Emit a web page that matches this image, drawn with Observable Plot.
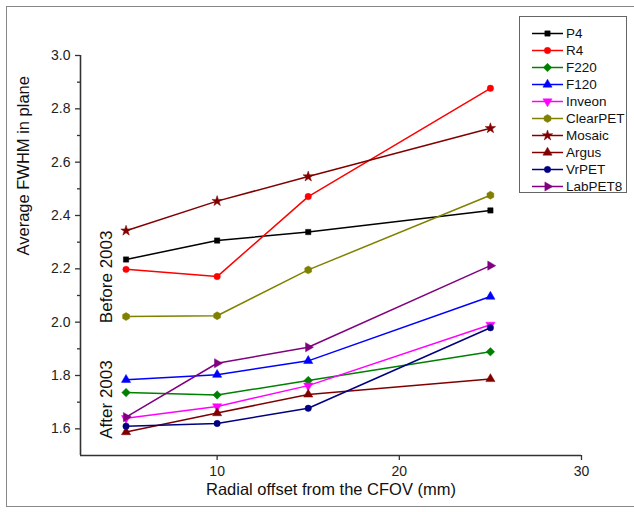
<!DOCTYPE html>
<html><head><meta charset="utf-8">
<script src="https://cdn.jsdelivr.net/npm/d3@7"></script>
<script src="https://cdn.jsdelivr.net/npm/@observablehq/plot@0.6"></script>
<style>
body{margin:0;background:#fff;font-family:Arial,"Liberation Sans",sans-serif;}
#wrap{position:relative;width:634px;height:512px;overflow:hidden;background:#fff;}
#chart{position:absolute;left:0;top:0;}
#frame{position:absolute;left:6px;top:6px;width:700px;height:501px;border:1px solid #888;box-sizing:border-box;pointer-events:none;}
#legend{position:absolute;left:519px;top:16px;width:108px;height:177px;border:1px solid #666;background:#fff;box-sizing:border-box;padding-top:8px;}
.row{display:flex;align-items:center;height:17px;padding-left:11px;font-size:13.5px;color:#111;white-space:nowrap;}
.row svg{display:block;}
.row span{margin-left:2px;}
</style></head><body>
<div id="wrap"><div id="chart"></div><div id="frame"></div><div id="legend"></div></div>
<script>
// ---- data ----
const offsets = [5, 10, 15, 25];
const names = ["P4", "R4", "F220", "F120", "Inveon", "ClearPET", "Mosaic", "Argus", "VrPET", "LabPET8"];
const P4       = [2.235, 2.306, 2.338, 2.419];
const R4       = [2.198, 2.171, 2.471, 2.877];
const F220     = [1.736, 1.727, 1.781, 1.889];
const F120     = [1.784, 1.803, 1.855, 2.096];
const Inveon   = [1.640, 1.684, 1.762, 1.990];
const ClearPET = [2.021, 2.024, 2.196, 2.476];
const Mosaic   = [2.343, 2.454, 2.546, 2.727];
const Argus    = [1.588, 1.659, 1.729, 1.787];
const VrPET    = [1.610, 1.620, 1.677, 1.979];
const LabPET8  = [1.644, 1.846, 1.906, 2.212];
const xTicks = [10, 20, 30];
const yMajorTicks = [1.6, 1.8, 2.0, 2.2, 2.4, 2.6, 2.8, 3.0];
const yMinorTicks = [1.7, 1.9, 2.1, 2.3, 2.5, 2.7, 2.9];
const xLabelText = "Radial offset from the CFOV (mm)";
const yLabelText = "Average FWHM in plane";
const annotations = [
  {text: "Before 2003", x: 3.93, y: 2.17},
  {text: "After 2003", x: 3.93, y: 1.71}
];

// ---- styles ----
const xDomain = [2.5, 30];
const yDomain = [1.5, 3.0];
const colors = ["#000000", "#ff0000", "#008000", "#0000ff", "#ff00ff", "#808000", "#800000", "#800000", "#000080", "#800080"];

function rot(sym, a) {
  const c = Math.cos(a), s = Math.sin(a);
  const tx = (x, y) => [x * c - y * s, x * s + y * c];
  return {draw(ctx, size) {
    const p = {
      moveTo: (x, y) => ctx.moveTo(...tx(x, y)),
      lineTo: (x, y) => ctx.lineTo(...tx(x, y)),
      closePath: () => ctx.closePath(),
      rect: (x, y, w, h) => {
        ctx.moveTo(...tx(x, y)); ctx.lineTo(...tx(x + w, y));
        ctx.lineTo(...tx(x + w, y + h)); ctx.lineTo(...tx(x, y + h)); ctx.closePath();
      },
      arc: (...args) => ctx.arc(...args)
    };
    sym.draw(p, size);
  }};
}
const hexagon = {draw(ctx, size) {
  const r = Math.sqrt(size * 2 / (3 * Math.sqrt(3)));
  for (let i = 0; i < 6; i++) {
    const a = Math.PI / 3 * i - Math.PI / 2;
    const x = r * Math.cos(a), y = r * Math.sin(a);
    if (i) ctx.lineTo(x, y); else ctx.moveTo(x, y);
  }
  ctx.closePath();
}};
const symbols = [d3.symbolSquare, d3.symbolCircle, rot(d3.symbolSquare, Math.PI / 4), d3.symbolTriangle,
  rot(d3.symbolTriangle, Math.PI), hexagon, d3.symbolStar, d3.symbolTriangle, d3.symbolCircle, rot(d3.symbolTriangle, Math.PI / 2)];
const radii = [3, 3.2, 3.4, 3.4, 3.4, 3.6, 3.3, 3.4, 3.2, 3.4];

const valueSets = [P4, R4, F220, F120, Inveon, ClearPET, Mosaic, Argus, VrPET, LabPET8];
const table = names.flatMap((n, i) => offsets.map((x, j) => ({series: n, x, y: valueSets[i][j]})));

const seriesMarks = names.flatMap((n, i) => [
  Plot.lineY(table, {filter: d => d.series === n, x: "x", y: "y", stroke: colors[i], strokeWidth: 1.5}),
  Plot.dot(table, {filter: d => d.series === n, x: "x", y: "y", symbol: symbols[i], r: radii[i], fill: colors[i], stroke: colors[i], strokeWidth: 0.5})
]);

const chart = Plot.plot({
  width: 634, height: 512,
  marginLeft: 80, marginRight: 53, marginTop: 55, marginBottom: 57,
  x: {domain: xDomain, label: null},
  y: {domain: yDomain, label: null},
  style: {fontFamily: "Arial, 'Liberation Sans', sans-serif", fontSize: "14px", color: "#222", background: "transparent"},
  marks: [
    Plot.axisY(yMinorTicks, {tickSize: 3, tickFormat: () => "", label: null, stroke: "#333", strokeWidth: 1.3}),
    Plot.axisY(yMajorTicks, {tickSize: 5, tickPadding: 5, tickFormat: d => d.toFixed(1), label: null, fontSize: 14, stroke: "#333", strokeWidth: 1.3}),
    Plot.axisX(xTicks, {tickSize: 5, tickPadding: 6, label: null, fontSize: 14, stroke: "#333", strokeWidth: 1.3}),
    Plot.ruleX([xDomain[0]], {stroke: "#333", strokeWidth: 1.6}),
    Plot.ruleY([yDomain[0]], {stroke: "#333", strokeWidth: 1.6}),
    ...seriesMarks,
    Plot.text(annotations, {x: "x", y: "y", text: "text", rotate: -90, fontSize: 17, fill: "#111"}),
    Plot.text([xLabelText], {text: d => d, frameAnchor: "bottom", dy: 39, fontSize: 16.5, fill: "#111"}),
    Plot.text([yLabelText], {text: d => d, frameAnchor: "left", dx: -57, rotate: -90, fontSize: 16.5, fill: "#111"})
  ]
});
document.getElementById("chart").appendChild(chart);

// ---- legend ----
const legend = d3.select("#legend");
names.forEach((n, i) => {
  const row = legend.append("div").attr("class", "row");
  const svg = row.append("svg").attr("width", 33).attr("height", 17);
  svg.append("line").attr("x1", 1).attr("x2", 32).attr("y1", 8.5).attr("y2", 8.5).attr("stroke", colors[i]).attr("stroke-width", 1.5);
  svg.append("path").attr("transform", "translate(16.5,8.5)")
    .attr("d", d3.symbol(symbols[i], radii[i] * radii[i] * Math.PI)())
    .attr("fill", colors[i]).attr("stroke", colors[i]).attr("stroke-width", 0.5);
  row.append("span").text(n);
});
</script></body></html>
